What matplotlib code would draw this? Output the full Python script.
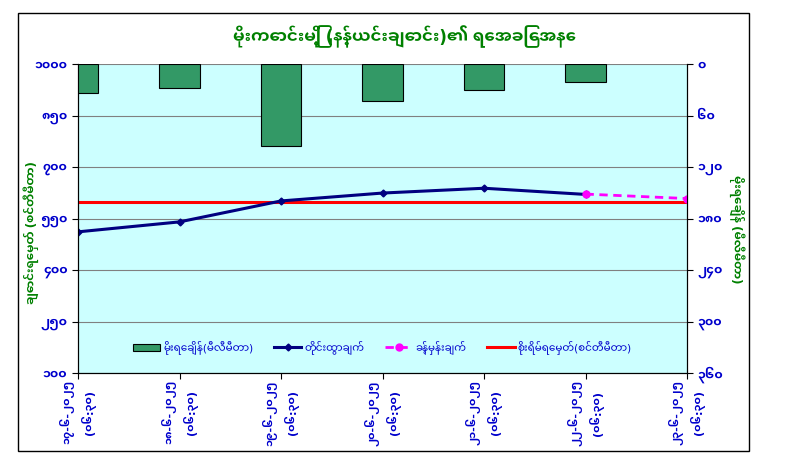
import matplotlib
matplotlib.use("Agg")
import matplotlib.pyplot as plt
import numpy as np
from matplotlib import font_manager
from matplotlib.ft2font import FT2Font
from matplotlib.patches import Rectangle

# data (dates 17..23 June, 06:30 readings)
dates = ["၁၇-၆-၂၀၂၅", "၁၈-၆-၂၀၂၅", "၁၉-၆-၂၀၂၅", "၂၀-၆-၂၀၂၅",
         "၂၁-၆-၂၀၂၅", "၂၂-၆-၂၀၂၅", "၂၃-၆-၂၀၂၅"]
times = ["(၀၆:၃၀)"] * 7
rain_mm = [33, 28, 95, 43, 30, 21]                 # bars, right axis
observed_cm = [512, 541, 602, 625, 639, 621]        # measured level
forecast_cm = [np.nan, np.nan, np.nan, np.nan, np.nan, 622, 609]
warning_cm = [600] * 7

left_ticks = [100, 250, 400, 550, 700, 850, 1000]
left_labels = ["၁၀၀", "၂၅၀", "၄၀၀", "၅၅၀", "၇၀၀", "၈၅၀", "၁၀၀၀"]
right_ticks = [0, 60, 120, 180, 240, 300, 360]
right_labels = ["၀", "၆၀", "၁၂၀", "၁၈၀", "၂၄၀", "၃၀၀", "၃၆၀"]

title = "မိုးကောင်းမြို့ (နန့်ယင်းချောင်း)၏ ရေအခြေအနေ"
left_title = "ချောင်းရေမှတ် (စင်တီမီတာ)"
right_title = "မိုးရေချိန် (မီလီမီတာ)"
leg_rain = "မိုးရေချိန်(မီလီမီတာ)"
leg_obs = "တိုင်းထွာချက်"
leg_fc = "ခန့်မှန်းချက်"
leg_warn = "စိုးရိမ်ရေမှတ်(စင်တီမီတာ)"


def find_font(ch):
    # installed fonts that have Myanmar glyphs, nicer ones first
    found = []
    for f in font_manager.fontManager.ttflist:
        try:
            if ord(ch) in FT2Font(f.fname).get_charmap():
                found.append(f.name)
        except Exception:
            pass
    for pref in ["Noto Sans Myanmar", "Padauk", "Myanmar Text", "Pyidaungsu"]:
        for name in found:
            if name.startswith(pref):
                return name
    return found[0] if found else None


mm_font = find_font("\u1019")
families = [mm_font, "DejaVu Sans"] if mm_font else ["DejaVu Sans"]
plt.rcParams["font.family"] = families

blue = "#0000CC"
green = "#008000"

fig = plt.figure(figsize=(7.95, 4.62), dpi=100)
fig.patch.set_facecolor("white")
# outer chart frame
fig.patches.append(Rectangle((18 / 795, 1 - 451 / 462), 731 / 795, 438 / 462,
                             transform=fig.transFigure, fill=False,
                             edgecolor="black", linewidth=1))

ax = fig.add_axes([78 / 795, 1 - 373.3 / 462, 609 / 795, 309 / 462])
ax.set_facecolor("#CCFFFF")
x = np.arange(len(dates))

ax.plot(x, warning_cm, color="#FF0000", linewidth=2.2, zorder=3)
ax.plot(x[:len(observed_cm)], observed_cm, color="#000080", linewidth=2.2,
        marker="D", markersize=3.5, zorder=4)
ax.plot(x, forecast_cm, color="#FF00FF", linewidth=2, linestyle=(0, (3, 2)),
        marker="o", markersize=5, zorder=4)

ax.set_xlim(0, 6)
ax.set_ylim(100, 1000)
ax.set_yticks(left_ticks)
ax.set_yticklabels(left_labels, color=blue, fontweight="bold", fontsize=9)
ax.yaxis.grid(True, color="#808080", linewidth=0.8)
ax.set_axisbelow(True)
ax.set_xticks(x)
ax.set_xticklabels([d + "\n" + t for d, t in zip(dates, times)], rotation=90,
                   color=blue, fontweight="bold", fontsize=8,
                   va="top", ha="center", linespacing=1.5,
                   multialignment="center")
ax.tick_params(axis="both", direction="out", length=4, color="black")
ax.tick_params(axis="x", pad=1)
ax.spines["top"].set_visible(False)
ax.set_ylabel(left_title, color=green, fontsize=8.5, fontweight="bold")
ax.yaxis.set_label_coords(-39 / 609, 0.455)

ax2 = ax.twinx()
ax2.patch.set_visible(False)
b = ax2.bar(x[:len(rain_mm)], rain_mm, width=0.4, color="#339966",
            edgecolor="black", linewidth=0.8, zorder=2)
ax2.set_ylim(360, 0)
ax2.set_yticks(right_ticks)
ax2.set_yticklabels(right_labels, color=blue, fontweight="bold", fontsize=9)
ax2.tick_params(axis="y", direction="out", length=4, color="black")
ax2.spines["top"].set_visible(False)
ax2.set_ylabel(right_title, color=green, fontsize=8.5, fontweight="bold",
               rotation=270, va="center")
ax2.yaxis.set_label_coords(1 + 50 / 609, 0.465)

handles = [b, ax.lines[1], ax.lines[2], ax.lines[0]]
leg = ax2.legend(handles, [leg_rain, leg_obs, leg_fc, leg_warn], ncol=4,
                 loc="center", bbox_to_anchor=(0.5, 0.085), frameon=False,
                 fontsize=7.5, handlelength=2.6, columnspacing=2.0,
                 handletextpad=0.3)
for t in leg.get_texts():
    t.set_color(blue)

fig.text(405 / 795, 1 - 37 / 462, title, color=green, fontsize=12,
         fontweight="bold", ha="center", va="center")

fig.savefig("out.png", dpi=100)
